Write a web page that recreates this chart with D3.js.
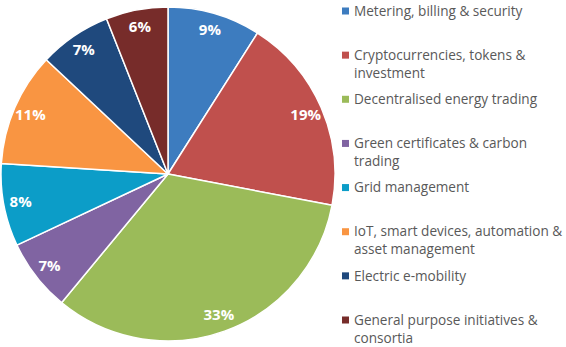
<!DOCTYPE html>
<html>
<head>
<meta charset="utf-8">
<script src="https://cdn.jsdelivr.net/npm/d3@7"></script>
<style>
  html, body { margin: 0; padding: 0; background: #fff; }
  svg { display: block; }
</style>
</head>
<body>
<svg id="chart" width="566" height="347"></svg>
<script>
// Blockchain use cases in the energy sector, share of initiatives
const categories = [
  "Metering, billing & security",
  "Cryptocurrencies, tokens & investment",
  "Decentralised energy trading",
  "Green certificates & carbon trading",
  "Grid management",
  "IoT, smart devices, automation & asset management",
  "Electric e-mobility",
  "General purpose initiatives & consortia"
];
const values = [9, 19, 33, 7, 8, 11, 7, 6];
const colors = ["#3d7cbf", "#c0504d", "#9bbb59", "#8064a2", "#0c9dc8", "#f99542", "#1f497d", "#772c2a"];
// Legend text, wrapped as in the legend box
const legendLines = [
  ["Metering, billing & security"],
  ["Cryptocurrencies, tokens &", "investment"],
  ["Decentralised energy trading"],
  ["Green certificates & carbon", "trading"],
  ["Grid management"],
  ["IoT, smart devices, automation &", "asset management"],
  ["Electric e-mobility"],
  ["General purpose initiatives &", "consortia"]
];

const svg = d3.select("#chart");
const cx = 168, cy = 174, radius = 167;

const pie = d3.pie().sort(null).value(d => d.value);
const arcs = pie(categories.map((c, i) => ({ name: c, value: values[i], color: colors[i] })));

const arc = d3.arc().innerRadius(0).outerRadius(radius);
const labelArc = d3.arc().innerRadius(150).outerRadius(150);

const g = svg.append("g").attr("transform", `translate(${cx},${cy})`);

g.selectAll("path.slice")
  .data(arcs)
  .join("path")
  .attr("class", "slice")
  .attr("d", arc)
  .attr("fill", d => d.data.color)
  .attr("stroke", "#ffffff")
  .attr("stroke-width", 1.5)
  .attr("stroke-linejoin", "round");

g.selectAll("text.pct")
  .data(arcs)
  .join("text")
  .attr("class", "pct")
  .attr("transform", d => `translate(${labelArc.centroid(d)})`)
  .attr("text-anchor", "middle")
  .attr("dy", "0.35em")
  .attr("fill", "#ffffff")
  .attr("font-family", "'Open Sans', 'DejaVu Sans', sans-serif")
  .attr("font-weight", "bold")
  .attr("font-size", 15)
  .text(d => d.data.value + "%");

// Legend
const legend = svg.append("g").attr("transform", "translate(342,0)");
const rowY = d3.scaleLinear().domain([0, 7]).range([11, 320]);

const items = legend.selectAll("g.item")
  .data(categories)
  .join("g")
  .attr("class", "item")
  .attr("transform", (d, i) => `translate(0,${rowY(i)})`);

items.append("rect")
  .attr("x", 0)
  .attr("y", -3.5)
  .attr("width", 7)
  .attr("height", 7)
  .attr("fill", (d, i) => colors[i]);

items.append("text")
  .attr("x", 12)
  .attr("fill", "#595959")
  .attr("font-family", "'Open Sans', 'DejaVu Sans', sans-serif")
  .attr("font-size", 13.6)
  .selectAll("tspan")
  .data((d, i) => legendLines[i])
  .join("tspan")
  .attr("x", 12)
  .attr("y", (d, j) => j * 18)
  .attr("dy", "0.35em")
  .text(d => d);
</script>
</body>
</html>
